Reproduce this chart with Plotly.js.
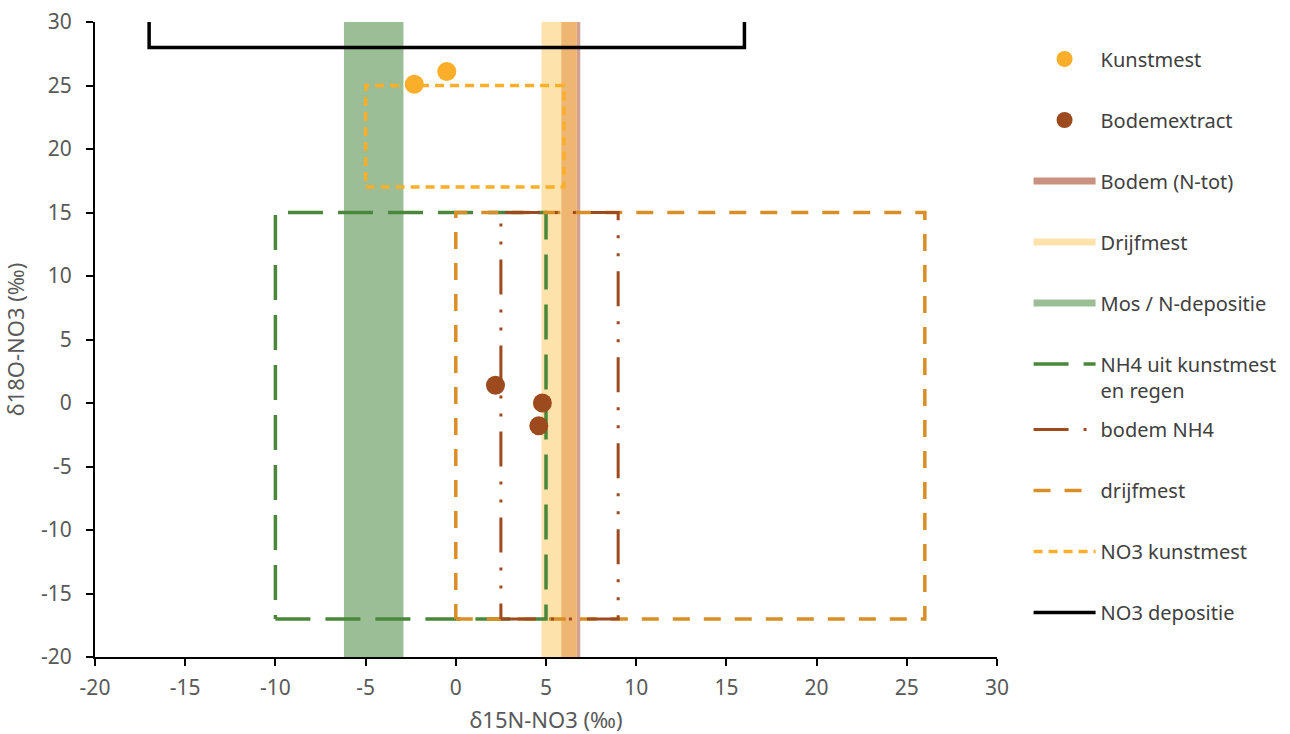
<!DOCTYPE html>
<html>
<head>
<meta charset="utf-8">
<script src="https://cdn.plot.ly/plotly-3.0.1.min.js"></script>
<style>html,body{margin:0;padding:0;background:#fff;}#chart{width:1290px;height:734px;}</style>
</head>
<body>
<div id="chart"></div>
<script>
// Axis ranges
const xRange = [-20, 30];
const yRange = [-20, 30];
const tickVals = [-20, -15, -10, -5, 0, 5, 10, 15, 20, 25, 30];
const tickText = ['-20', '-15', '-10', '-5', '0', '5', '10', '15', '20', '25', '30'];

// Measured points
const kunstmestX = [-2.3, -0.5];
const kunstmestY = [25.1, 26.1];
const bodemextractX = [2.2, 4.8, 4.6];
const bodemextractY = [1.4, 0.0, -1.8];

// Vertical bands (delta15N ranges)
const bodemNtotBand = [5.85, 6.9];
const drijfmestBand = [4.75, 6.7];
const mosBand = [-6.2, -2.9];

// Boxes [xmin, xmax], [ymin, ymax]
const nh4KunstmestX = [-10, 5];
const nh4KunstmestY = [-17, 15];
const bodemNH4X = [2.5, 9];
const bodemNH4Y = [-17, 15];
const drijfmestBoxX = [0, 26];
const drijfmestBoxY = [-17, 15];
const no3KunstmestX = [-5, 6];
const no3KunstmestY = [17, 25];
// NO3 depositie bracket
const no3DepX = [-17, -17, 16, 16];
const no3DepY = [30, 28, 28, 30];

function rectX(r) { return [r[0], r[1], r[1], r[0], r[0]]; }
function rectY(r) { return [r[0], r[0], r[1], r[1], r[0]]; }
function band(b, color, name) {
  return {x: rectX(b), y: rectY(yRange), mode: 'lines', fill: 'toself', fillcolor: color,
    line: {width: 0, color: color}, showlegend: false, hoverinfo: 'skip', name: name};
}
const overlap = [Math.max(bodemNtotBand[0], drijfmestBand[0]), Math.min(bodemNtotBand[1], drijfmestBand[1])];

const cBodem = '#C9917F', cDrijf = '#FDE3AB', cMos = '#9BBE97';
const cGreen = '#4A873B', cBrown = '#9E4A1F', cOrange = '#D98F26', cYellow = '#FBAE2A';

const traces = [
  band(bodemNtotBand, 'rgba(201,145,127,0.85)', 'Bodem band'),
  band(drijfmestBand, cDrijf, 'Drijfmest band'),
  band(overlap, '#EEB672', 'overlap'),
  band(mosBand, cMos, 'Mos band'),
  {x: rectX(nh4KunstmestX), y: rectY(nh4KunstmestY), mode: 'lines', name: 'NH4 uit kunstmest<br>en regen',
    line: {color: cGreen, width: 3.5, dash: '35px,15px'}, legend: 'legend', legendrank: 6, legendgroup: 'g6'},
  {x: rectX(drijfmestBoxX), y: rectY(drijfmestBoxY), mode: 'lines', name: 'drijfmest',
    line: {color: cOrange, width: 3.5, dash: '17px,14px'}, legend: 'legend2', legendrank: 8, legendgroup: 'g8'},
  {x: rectX(bodemNH4X), y: rectY(bodemNH4Y), mode: 'lines', name: 'bodem NH4',
    line: {color: cBrown, width: 3, dash: '35px,15px,3px,15px,3px,15px'}, legend: 'legend2', legendrank: 7, legendgroup: 'g7'},
  {x: rectX(no3KunstmestX), y: rectY(no3KunstmestY), mode: 'lines', name: 'NO3 kunstmest',
    line: {color: cYellow, width: 3.5, dash: '9px,6px'}, legend: 'legend2', legendrank: 9, legendgroup: 'g9'},
  {x: no3DepX, y: no3DepY, mode: 'lines', name: 'NO3 depositie',
    line: {color: '#000000', width: 3.5}, legend: 'legend2', legendrank: 10, legendgroup: 'g10'},
  {x: kunstmestX, y: kunstmestY, mode: 'markers', name: 'Kunstmest',
    marker: {color: cYellow, size: 19}, legend: 'legend', legendrank: 1, legendgroup: 'g1'},
  {x: bodemextractX, y: bodemextractY, mode: 'markers', name: 'Bodemextract',
    marker: {color: cBrown, size: 19}, legend: 'legend', legendrank: 2, legendgroup: 'g2'},
  // legend entries for the bands
  {x: [null], y: [null], mode: 'lines', name: 'Bodem (N-tot)', line: {color: cBodem, width: 7}, legend: 'legend', legendrank: 3, legendgroup: 'g3'},
  {x: [null], y: [null], mode: 'lines', name: 'Drijfmest', line: {color: cDrijf, width: 7}, legend: 'legend', legendrank: 4, legendgroup: 'g4'},
  {x: [null], y: [null], mode: 'lines', name: 'Mos / N-depositie', line: {color: cMos, width: 7}, legend: 'legend', legendrank: 5, legendgroup: 'g5'}
];

const FAM = 'Noto Sans, Open Sans, sans-serif';
const legendCommon = {
  font: {family: FAM, size: 20, color: '#404040'},
  bgcolor: 'rgba(0,0,0,0)', itemwidth: 62, tracegroupgap: 32, traceorder: 'grouped', valign: 'top',
  xanchor: 'left', yanchor: 'top', itemclick: false
};

const layout = {
  width: 1290, height: 734,
  margin: {l: 95, r: 293, t: 22, b: 77, autoexpand: false},
  paper_bgcolor: '#ffffff', plot_bgcolor: '#ffffff',
  font: {family: FAM, size: 20, color: '#595959'},
  xaxis: {range: xRange, tickvals: tickVals, ticktext: tickText, showgrid: false, zeroline: false,
    showline: true, linecolor: '#000', linewidth: 2, ticks: 'outside', ticklen: 7, tickwidth: 2, tickcolor: '#000',
    ticklabelstandoff: 4, automargin: false,
    tickfont: {family: FAM, size: 21, color: '#595959'},
    title: {text: 'δ15N-NO3 (‰)', font: {family: FAM, size: 22, color: '#595959'}, standoff: 13}},
  yaxis: {range: yRange, tickvals: tickVals, ticktext: tickText, showgrid: false, zeroline: false,
    showline: true, linecolor: '#000', linewidth: 2, ticks: 'outside', ticklen: 7, tickwidth: 2, tickcolor: '#000',
    ticklabelstandoff: 10, automargin: false,
    tickfont: {family: FAM, size: 21, color: '#595959'},
    title: {text: 'δ18O-NO3 (‰)', font: {family: FAM, size: 22, color: '#595959'}, standoff: 14}},
  legend: Object.assign({}, legendCommon, {x: 1.035, y: 0.9724}),
  legend2: Object.assign({}, legendCommon, {x: 1.035, y: 0.389}),
  showlegend: true
};

Plotly.newPlot('chart', traces, layout, {displayModeBar: false, staticPlot: true});
</script>
</body>
</html>
